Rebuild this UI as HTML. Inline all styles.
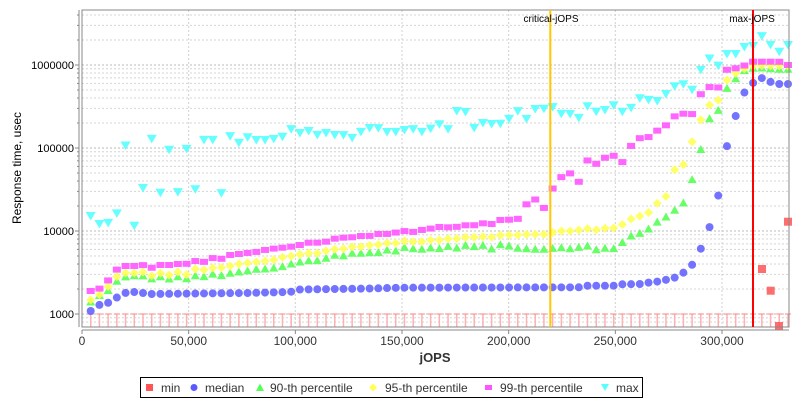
<!DOCTYPE html>
<html><head><meta charset="utf-8"><style>
html,body{margin:0;padding:0;background:#fff;}
svg{display:block;font-family:"Liberation Sans",sans-serif;}
</style></head><body>
<svg id="s" width="800" height="400" xmlns="http://www.w3.org/2000/svg">
<rect x="0" y="0" width="800" height="400" fill="#fff"/>
<g id="grid"></g>
<g id="data"></g>
<rect x="82" y="10" width="707" height="317" fill="none" stroke="#888" stroke-width="1"/>
<line x1="79" y1="10" x2="79" y2="327" stroke="#888"/>
<line x1="82" y1="330" x2="789" y2="330" stroke="#888"/>
<g font-size="11" fill="#000" text-anchor="end" id="ylab">
<text x="74" y="318">1000</text>
<text x="74" y="235">10000</text>
<text x="74" y="152">100000</text>
<text x="74" y="69">1000000</text>
</g>
<g font-size="12" fill="#333" text-anchor="middle">
<text x="82" y="345">0</text>
<text x="188.7" y="345">50,000</text>
<text x="295.3" y="345">100,000</text>
<text x="402" y="345">150,000</text>
<text x="508.7" y="345">200,000</text>
<text x="615.3" y="345">250,000</text>
<text x="722" y="345">300,000</text>
</g>
<text x="435" y="362" font-size="13" font-weight="bold" fill="#333" text-anchor="middle">jOPS</text>
<text transform="translate(21,168) rotate(-90)" font-size="12" fill="#000" text-anchor="middle">Response time, usec</text>
<line x1="550.3" y1="10" x2="550.3" y2="327" stroke="#ffc800" stroke-width="2"/>
<line x1="753" y1="10" x2="753" y2="327" stroke="#ff0000" stroke-width="2"/>
<text x="551" y="22" font-size="10" fill="#000" text-anchor="middle">critical-jOPS</text>
<text x="752" y="22" font-size="10" fill="#000" text-anchor="middle">max-jOPS</text>
<rect x="140.5" y="377.5" width="502" height="20" fill="#fff" stroke="#000"/>
<g font-size="12" fill="#333">
<rect x="146" y="384" width="7" height="7" fill="#ff5555"/><text x="161" y="392">min</text>
<circle cx="194" cy="387.5" r="3.5" fill="#5a5aff"/><text x="205" y="392">median</text>
<polygon points="260,383.5 264,391 256,391" fill="#55ff55"/><text x="270" y="392">90-th percentile</text>
<polygon points="373,383.5 377,387.5 373,391.5 369,387.5" fill="#ffff55"/><text x="385" y="392">95-th percentile</text>
<rect x="485" y="385" width="7" height="5" fill="#ff55ff"/><text x="500" y="392">99-th percentile</text>
<polygon points="601,384 609,384 605,391" fill="#55ffff"/><text x="616" y="392">max</text>
</g>
</svg>
<script>
var NS="http://www.w3.org/2000/svg";
function el(p,t,a){var e=document.createElementNS(NS,t);for(var k in a)e.setAttribute(k,a[k]);p.appendChild(e);return e;}
var g=document.getElementById('grid'),d=document.getElementById('data');
function Y(v){return 314-83*Math.log10(v/1000);}
for(var dec=100;dec<=1e7;dec*=10){for(var m=1;m<10;m++){var y=Y(dec*m);if(y<10||y>327)continue;
el(g,'line',{x1:82,x2:789,y1:y,y2:y,stroke:m==1?'#bbb':'#d4d4d4','stroke-dasharray':'2,2','stroke-width':1});}}
for(var i=1;i<=6;i++){var x=82+106.667*i;el(g,'line',{x1:x,x2:x,y1:10,y2:327,stroke:'#d0d0d0','stroke-dasharray':'2,2'});}
for(var dec=1000;dec<=1e6;dec*=10){for(var m=1;m<10;m++){var y=Y(dec*m);if(y<10||y>327)continue;el(g,'line',{x1:m==1?75:77,x2:79,y1:y,y2:y,stroke:'#888'});}}
for(var i=0;i<=6;i++){var x=82+106.667*i;el(g,'line',{x1:x,x2:x,y1:330,y2:334,stroke:'#888'});}
function interp(pts,x){if(x<=pts[0][0])return pts[0][1];for(var i=1;i<pts.length;i++){if(x<=pts[i][0]){var a=pts[i-1],b=pts[i];return a[1]+(b[1]-a[1])*(x-a[0])/(b[0]-a[0]);}}return pts[pts.length-1][1];}
var med=[[90.7,311],[99,305],[107.7,303],[116,298],[125,293],[134,292],[143,293],[151,294],[247,293],[290,292],[300,289.5],[370,288.5],[400,287.7],[579,287.3],[587.7,285.7],[613.7,285.7],[622.3,284.3],[640,284],[648,282.7],[656.7,281.7],[665.3,280],[674,278],[683,273],[692,265],[700.7,249],[709,229],[718,197],[727,146],[735.7,116],[744,93],[753,83],[762,78],[770.7,82],[779,84],[788,84]];
var p90=[[90.7,302],[99,295.7],[107.7,291],[116,281.7],[125,277],[134,275.7],[142.7,275.7],[151,279],[160,276.7],[169,279],[177.7,276.7],[186,279],[195,275.7],[203.7,276.7],[212,274],[221,275.7],[230,273.3],[238.7,272],[247,271],[256,269.3],[264.7,269],[273,268.3],[282,266.7],[291,264],[300,262],[308.7,260.7],[317,260.7],[326,258.3],[334.7,255.3],[343,256],[352,253.3],[360.7,253.3],[369,252.7],[378,252.7],[386.7,250],[395,251.3],[404,247.3],[412.7,248.7],[421.7,249.3],[430,248],[439,248.7],[447.7,246.3],[456,248.3],[465,245.3],[474,246.7],[482.7,245.3],[491,249.3],[500,244.7],[509,246],[517.7,248.3],[526.7,248.7],[535,249.3],[544,249.3],[553,248.3],[561.7,247.7],[570,248.7],[579,247.3],[587.7,246],[596.7,250],[605,248.3],[614,248.7],[622.7,242.3],[631,236],[640,233.3],[649,228.7],[657.7,221.7],[666,217],[675,210],[683,204],[692,180],[700.7,150],[709,119.3],[718,111],[727,88.3],[735.7,78.7],[744,70.7],[753,68.3],[762,68],[770.7,68.7],[779,69.3],[788,69.3]];
var p95=[[90.7,300],[99,295],[107.7,287],[116,277],[125,273],[134,273],[142.7,272],[151,276],[160,273],[169,275],[177.7,272],[186,275],[195,269],[203.7,270],[212,268],[221,267.7],[230,266],[238.7,264],[247,263],[256,262],[264.7,261],[273,260],[282.7,257.3],[291,256],[300,254.3],[308.7,253.3],[317,253.3],[326,250.7],[334.7,249.3],[343,248.7],[352,246.7],[360.7,246.7],[369,245.3],[378,244.7],[386.7,243],[395,243.3],[404,241],[412.7,241.7],[421.7,241.7],[430,240],[439,240],[447.7,238.7],[456,238.7],[465,237.3],[474,237.3],[482.7,236.7],[491,237.3],[500,235.3],[509,235],[517.7,235],[526.7,234.3],[535,234.3],[544,234.3],[553,232.3],[561.7,231],[570,231],[579,230],[587.7,228.7],[596.7,230],[605,228.3],[614,228],[622.7,224.3],[631,219],[640,216],[649,212.3],[657.7,202.7],[666,196.3],[675,168.7],[683,165.7],[692,142],[700.7,120],[709,105.3],[718,100.7],[727,80],[735.7,73.3],[744,69],[753,66],[762,65.7],[770.7,65.7],[779,66],[788,66]];
var p99=[[90.7,291],[99,289],[107.7,281],[116,270],[125,266],[134,266],[142.7,265],[151,268],[160,265],[169,265],[177.7,264],[186,264],[195,261],[203.7,262],[212,258],[221,259],[230,255],[238.7,254],[247,253],[256,252],[264.7,250],[273,248.7],[282.7,247.7],[291,246.7],[300,245],[308.7,242.7],[317,242.7],[326,241.7],[334.7,238.7],[343,237.7],[352,237.3],[360.7,236],[369,236],[378,234],[386.7,234],[395,232.7],[404,231],[412.7,232],[421.7,230],[430,228.7],[439,227],[447.7,227.3],[456,227],[465,225.3],[474,225.3],[482.7,223.3],[491,224.3],[500,220],[509,219.7],[517.7,219],[526.7,204],[535,199.3],[544,208],[553,187.7],[561.7,176.7],[570,173.3],[579,182],[587.7,160],[596.7,164],[605,157.7],[614,155.7],[622.7,162.3],[631,146],[640,138],[649,137],[657.7,130.3],[666,125.3],[675,116],[683,113.7],[692,114.3],[700.7,94.3],[709,87],[718,88],[727,69.7],[735.7,68.3],[744,65.7],[753,61.7],[762,61.7],[770.7,61.7],[779,61.7],[788,65]];
var mx=[[90.7,216],[99,224],[107.7,223],[116,221],[125,140],[134,227],[142.7,190],[151,134],[160,195],[169,149],[177.7,193],[186,146],[195,191],[203.7,140],[212,135],[221,196],[230,136],[238.7,143],[247,137],[256,140],[264.7,140],[273,139],[282.7,136.7],[291,129],[300,133],[308.7,131],[317,135],[326,133],[334.7,135],[343,135],[352,138],[360.7,132],[369,128],[378,128],[386.7,132],[395,132],[404,130],[412.7,129],[421.7,132],[430,129],[439,124],[447.7,130],[456,111],[465,111],[474,128],[482.7,123],[491,124],[500,124],[509,119],[517.7,111],[526.7,119],[535,109],[544,108.7],[553,107],[561.7,114],[570,114],[579,118],[587.7,106],[596.7,112],[605,110],[614,105],[622.7,112],[631,108],[640,98],[649,100],[657.7,101],[666,94],[675,86],[683,84],[692,90],[700.7,70],[709,58],[718,66],[727,54],[735.7,54],[744,47],[753,46],[762,36],[770.7,45],[779,52],[788,45]];
var xs=[];for(var i=0;i<81;i++){xs.push(90.7+8.716*i);}
xs.forEach(function(x){
el(d,'line',{x1:x,x2:x,y1:314,y2:327,stroke:'#ffb0b0','stroke-width':1.5});
el(d,'line',{x1:x-3,x2:x+3,y1:314,y2:314,stroke:'#ff8080'});});
function circ(x,y,c){el(d,'circle',{cx:x,cy:y,r:4,fill:c,'fill-opacity':0.85});}
function tri(x,y,c){el(d,'polygon',{points:(x)+','+(y-4.5)+' '+(x+4.5)+','+(y+3.5)+' '+(x-4.5)+','+(y+3.5),fill:c,'fill-opacity':0.9});}
function dia(x,y,c){el(d,'polygon',{points:x+','+(y-4.5)+' '+(x+4.5)+','+y+' '+x+','+(y+4.5)+' '+(x-4.5)+','+y,fill:c,'fill-opacity':0.9});}
function bar(x,y,c){el(d,'rect',{x:x-4,y:y-3,width:8,height:6,fill:c,'fill-opacity':0.9});}
function itri(x,y,c){el(d,'polygon',{points:(x-5)+','+(y-4)+' '+(x+5)+','+(y-4)+' '+x+','+(y+4.5),fill:c,'fill-opacity':0.9});}
xs.forEach(function(x){circ(x,interp(med,x),'#5a5aff');});
xs.forEach(function(x){tri(x,interp(p90,x),'#55ff55');});
xs.forEach(function(x){dia(x,interp(p95,x),'#ffff55');});
xs.forEach(function(x){bar(x,interp(p99,x),'#ff55ff');});
xs.forEach(function(x){itri(x,interp(mx,x),'#55ffff');});
[[762,269],[770.7,290.7],[779,326],[788,221.7]].forEach(function(p){el(d,'rect',{x:p[0]-4,y:p[1]-4,width:8,height:8,fill:'#ff5555','fill-opacity':0.85});});
</script>
</body></html>
